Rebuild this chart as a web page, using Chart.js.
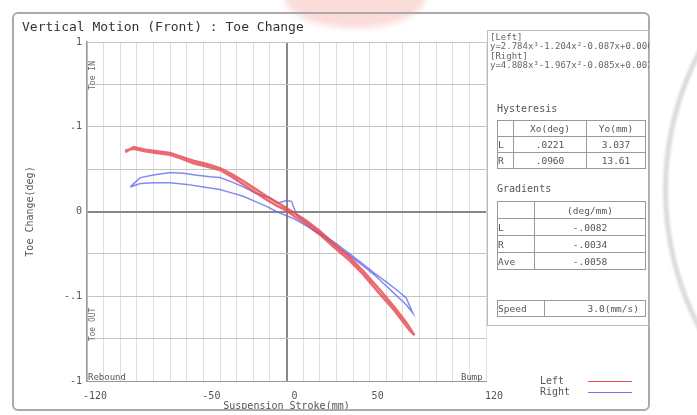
<!DOCTYPE html>
<html><head><meta charset="utf-8">
<script src="https://cdn.jsdelivr.net/npm/chart.js@4/dist/chart.umd.min.js"></script>
<style>
html,body{margin:0;padding:0;background:#fff;}
#wrap{position:relative;width:697px;height:415px;overflow:hidden;font-family:'DejaVu Sans Mono',monospace;color:#555;}
#c{position:absolute;left:0;top:0;}
.abs{position:absolute;white-space:nowrap;}
.frame{position:absolute;left:12px;top:12px;width:638px;height:399px;border:2px solid #aaa;border-radius:6px;box-sizing:border-box;}
.panel{position:absolute;left:487px;top:30px;width:163px;height:296px;border:1px solid #bbb;box-sizing:border-box;overflow:hidden;}
.eq{position:absolute;left:2px;font-size:9px;line-height:9px;color:#666;white-space:nowrap;}
table{position:absolute;border-collapse:collapse;font-size:9.5px;color:#555;}
td{border:1px solid #999;padding:0;text-align:center;height:15px;line-height:15px;}
.rot{position:absolute;transform:rotate(-90deg);transform-origin:center center;font-size:8px;color:#666;white-space:nowrap;}
.wm1{position:absolute;left:285px;top:-32px;width:140px;height:60px;border-radius:50%;background:rgba(240,140,130,0.30);filter:blur(3px);}
.wmclip{position:absolute;left:652px;top:0;width:45px;height:415px;overflow:hidden;}
.wm2{position:absolute;left:11px;top:-110px;width:600px;height:600px;border-radius:50%;border:5px solid rgba(185,185,185,0.5);box-sizing:border-box;filter:blur(1px);}
</style>
</head><body>
<div id="wrap">
<div class="wm1"></div>
<div class="wmclip"><div class="wm2"></div></div>
<canvas id="c" width="697" height="415"></canvas>
<div class="frame"></div>
<div class="abs" style="left:22px;top:19px;font-size:13px;line-height:16px;color:#333;">Vertical Motion (Front) : Toe Change</div>
<div class="panel">
  <div class="eq" style="top:2px;">[Left]</div>
  <div class="eq" style="top:11px;">y=2.784x³-1.204x²-0.087x+0.006</div>
  <div class="eq" style="top:21px;">[Right]</div>
  <div class="eq" style="top:30px;">y=4.808x³-1.967x²-0.085x+0.002</div>
</div>
<div class="abs" style="left:497px;top:103px;font-size:10px;color:#555;">Hysteresis</div>
<table style="left:497px;top:120px;width:149px;">
  <tr><td style="width:15px"></td><td style="width:72px">Xo(deg)</td><td>Yo(mm)</td></tr>
  <tr><td style="text-align:left">L</td><td>.0221</td><td>3.037</td></tr>
  <tr><td style="text-align:left">R</td><td>.0960</td><td>13.61</td></tr>
</table>
<div class="abs" style="left:497px;top:183px;font-size:10px;color:#555;">Gradients</div>
<table style="left:497px;top:201px;width:149px;">
  <tr><td style="width:36px;height:16px"></td><td>(deg/mm)</td></tr>
  <tr><td style="text-align:left;height:16px">L</td><td>-.0082</td></tr>
  <tr><td style="text-align:left;height:16px">R</td><td>-.0034</td></tr>
  <tr><td style="text-align:left;height:16px">Ave</td><td>-.0058</td></tr>
</table>
<table style="left:497px;top:300px;width:149px;">
  <tr><td style="width:46px;text-align:left">Speed</td><td style="text-align:right;padding-right:6px">3.0(mm/s)</td></tr>
</table>
<div class="abs" style="left:540px;top:375px;font-size:10px;line-height:11px;">Left<br>Right</div>
<div class="abs" style="left:588px;top:381px;width:44px;height:0;border-top:1px solid #e8505a;"></div>
<div class="abs" style="left:588px;top:392px;width:44px;height:0;border-top:1px solid #6f78e8;"></div>
<div class="rot" style="left:72px;top:71px;width:40px;text-align:center;">Toe IN</div>
<div class="rot" style="left:72px;top:320px;width:40px;text-align:center;">Toe OUT</div>
<div class="abs" style="left:88px;top:372px;font-size:9px;line-height:10px;color:#555;">Rebound</div>
<div class="abs" style="left:461px;top:372px;font-size:9px;line-height:10px;color:#555;">Bump</div>
</div>
<script>
// ---- data ----
const leftStroke = [-97,-92,-85,-78,-70,-64,-56,-48,-40,-33,-26,-19,-12,-5,0,5,12,20,28,38,46,56,65,74,77,
                    72,65,56,46,38,28,20,12,5,0,-5,-12,-19,-26,-33,-40,-48,-56,-64,-70,-78,-85,-92,-97];
const leftToe = [0.072,0.074,0.071,0.069,0.067,0.063,0.057,0.053,0.049,0.041,0.032,0.023,0.014,0.006,0.001,-0.006,-0.015,-0.027,-0.041,-0.058,-0.074,-0.097,-0.117,-0.140,-0.146,
                 -0.131,-0.113,-0.092,-0.070,-0.054,-0.037,-0.023,-0.011,-0.002,0.004,0.010,0.018,0.027,0.036,0.044,0.051,0.056,0.060,0.065,0.069,0.071,0.073,0.076,0.070];
const rightStroke = [-94,-88,-80,-70,-60,-50,-40,-33,-26,-19,-12,-5,0,5,12,20,30,38,46,53,60,66,72,76,
                     72,66,60,53,46,38,30,20,12,6,3,0,-5,-10,-19,-26,-33,-40,-46,-55,-62,-70,-80,-88,-94];
const rightToe = [0.029,0.033,0.034,0.034,0.032,0.029,0.026,0.022,0.018,0.012,0.006,-0.001,-0.005,-0.009,-0.017,-0.027,-0.041,-0.052,-0.064,-0.075,-0.088,-0.099,-0.110,-0.120,
                  -0.102,-0.092,-0.083,-0.073,-0.062,-0.050,-0.038,-0.025,-0.013,-0.004,0.012,0.013,0.010,0.016,0.022,0.029,0.035,0.040,0.041,0.043,0.045,0.046,0.043,0.040,0.029];
const xTickValues = [-120,-50,0,50,120];
const xTickLabels = ["-120","-50","0","50","120"];
const yTickValues = [-0.2,-0.1,0,0.1,0.2];
const yTickLabels = ["-1","-.1","0",".1","1"];

const toPts = (xs, ys) => xs.map((x, i) => ({x, y: ys[i]}));
const lab = (vals, labels) => function(v){ const i = vals.findIndex(t => Math.abs(t - v) < 1e-9); return i >= 0 ? labels[i] : ''; };

Chart.defaults.font.family = "'DejaVu Sans Mono', monospace";
new Chart(document.getElementById('c'), {
  type: 'scatter',
  data: { datasets: [
    { label: 'Left', data: toPts(leftStroke, leftToe), showLine: true, pointRadius: 0, borderColor: 'rgba(230,70,80,0.8)', borderWidth: 2.5, tension: 0 },
    { label: 'Right', data: toPts(rightStroke, rightToe), showLine: true, pointRadius: 0, borderColor: 'rgba(100,110,235,0.8)', borderWidth: 1.5, tension: 0 }
  ]},
  options: {
    responsive: false, animation: false,
    layout: { padding: { left: 24, right: 211, top: 42, bottom: 3 } },
    plugins: { legend: { display: false }, tooltip: { enabled: false } },
    scales: {
      x: { type: 'linear', min: -120, max: 120,
        afterFit(s){ s.height = 31; },
        ticks: { stepSize: 10, autoSkip: false, maxRotation: 0, padding: 9, labelOffset: 8, font: { size: 10 }, color: '#555', callback: lab(xTickValues, xTickLabels) },
        grid: { drawTicks: false, color: c => c.tick && c.tick.value === 0 ? '#888' : '#dedede', lineWidth: c => c.tick && c.tick.value === 0 ? 2 : 1 },
        border: { display: true, color: '#999', width: 1 },
        title: { display: true, text: 'Suspension Stroke(mm)', font: { size: 10 }, color: '#555', padding: 0 } },
      y: { type: 'linear', min: -0.2, max: 0.2,
        afterFit(s){ s.width = 63; },
        ticks: { stepSize: 0.05, autoSkip: false, padding: 5, font: { size: 10 }, color: '#555', callback: lab(yTickValues, yTickLabels) },
        grid: { drawTicks: false, color: c => c.tick && Math.abs(c.tick.value) < 1e-9 ? '#888' : '#c4c4c4', lineWidth: c => c.tick && Math.abs(c.tick.value) < 1e-9 ? 2 : 1 },
        border: { display: true, color: '#999', width: 1.5 },
        title: { display: true, text: 'Toe Change(deg)', font: { size: 10 }, color: '#555', padding: 0 } }
    }
  }
});
</script>
</body></html>
